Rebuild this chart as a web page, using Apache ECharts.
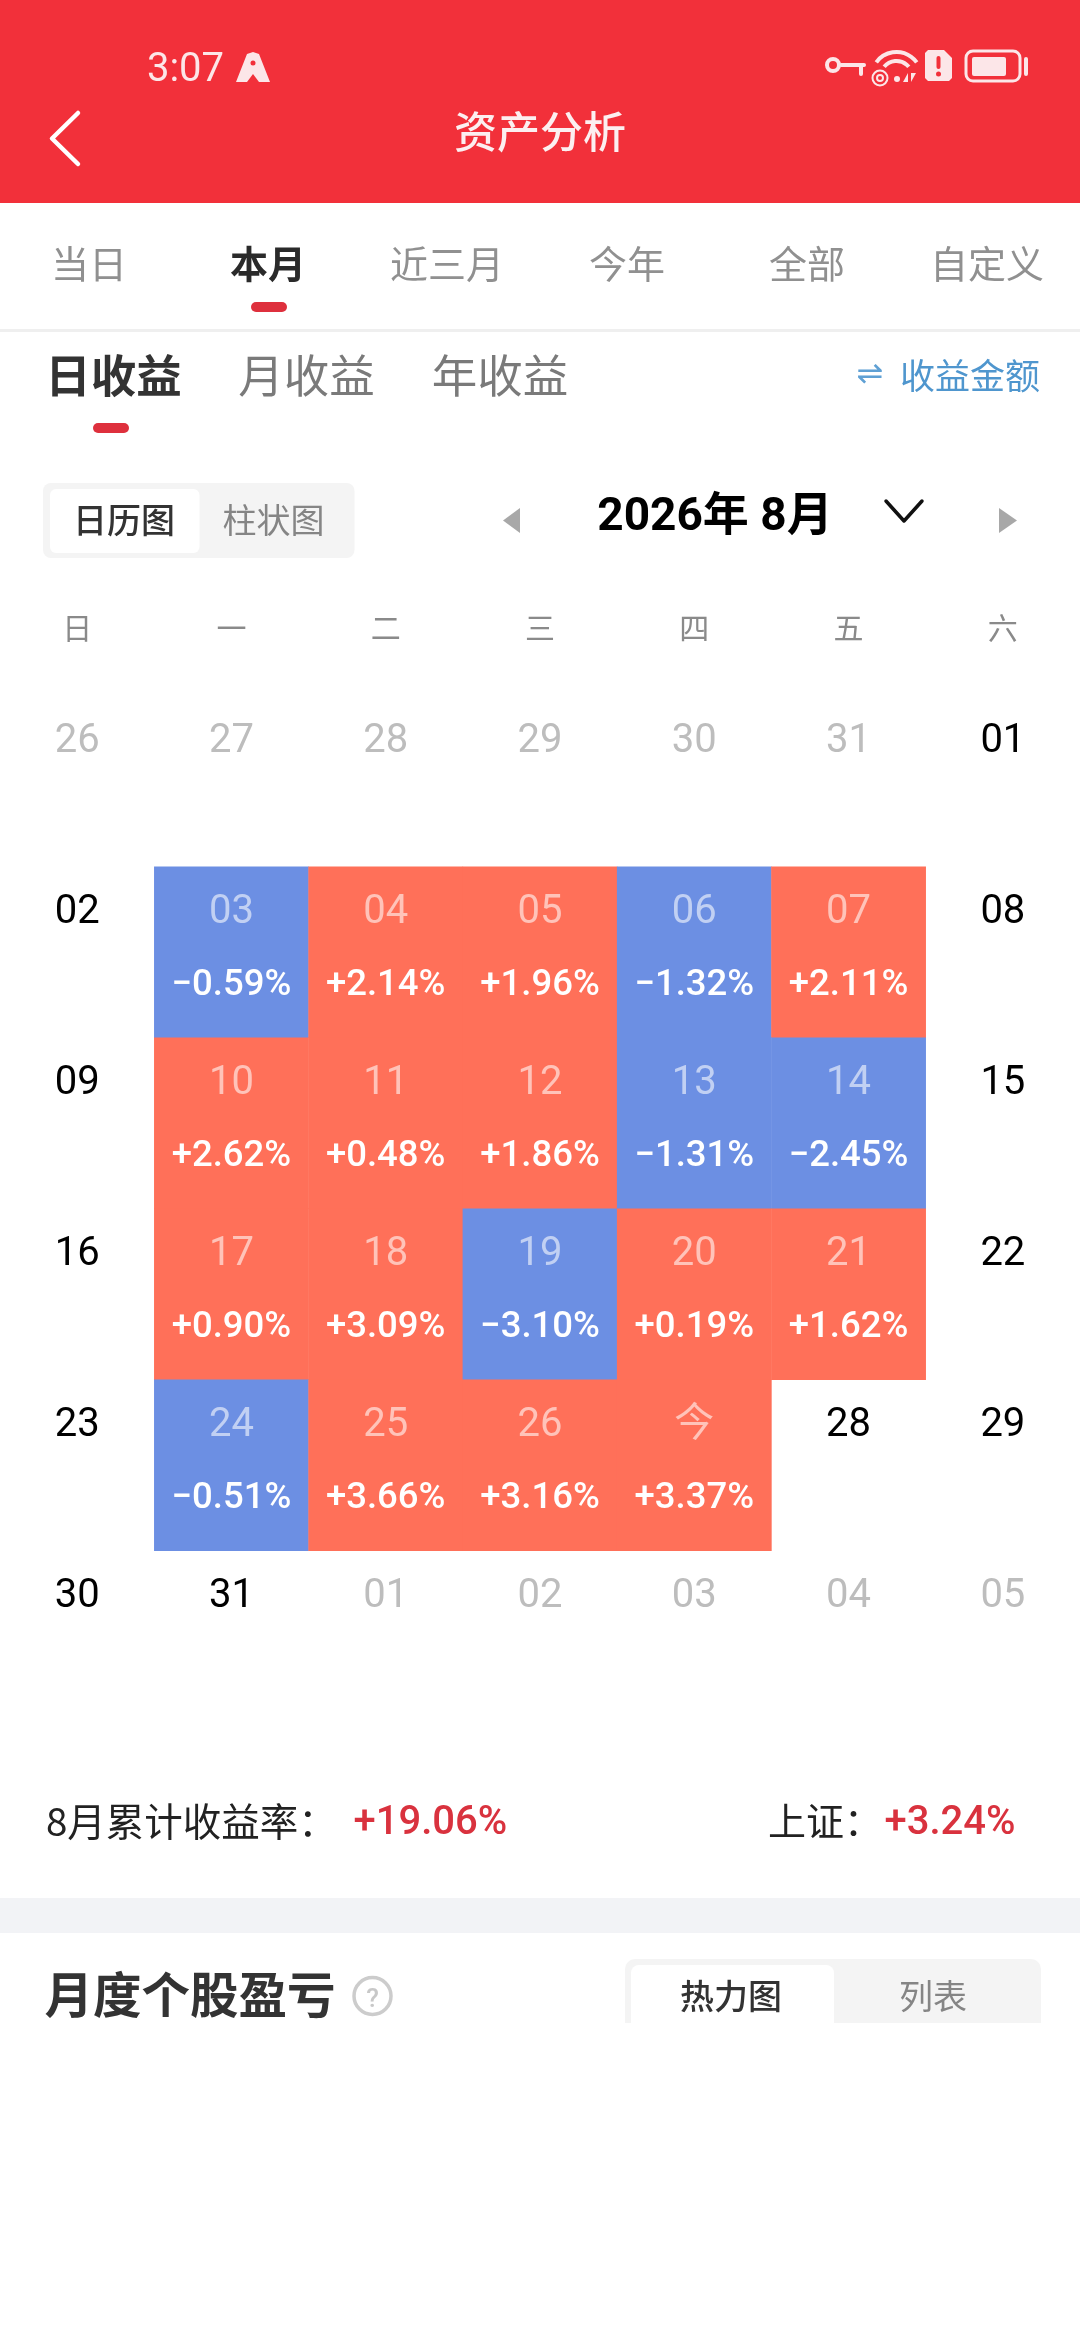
<!DOCTYPE html>
<html><head><meta charset="utf-8">
<style>html,body{margin:0;padding:0;background:#fff}#c{width:1080px;height:2340px}</style>
<script src="https://cdn.jsdelivr.net/npm/echarts@6/dist/echarts.min.js"></script>
</head><body><div id="c"></div>
<script>
const weekDays = ['日','一','二','三','四','五','六'];
const dateRows = [
  ['26','27','28','29','30','31','01'],
  ['02','03','04','05','06','07','08'],
  ['09','10','11','12','13','14','15'],
  ['16','17','18','19','20','21','22'],
  ['23','24','25','26','今','28','29'],
  ['30','31','01','02','03','04','05']
];
const dailyReturns = [
  [null,null,null,null,null,null,null],
  [null,-0.59,2.14,1.96,-1.32,2.11,null],
  [null,2.62,0.48,1.86,-1.31,-2.45,null],
  [null,0.90,3.09,-3.10,0.19,1.62,null],
  [null,-0.51,3.66,3.16,3.37,null,null],
  [null,null,null,null,null,null,null]
];
const rangeTabs = ['当日','本月','近三月','今年','全部','自定义'];
const rangeTabX = [89,268,447,627,807,987];
const profitTabs = ['日收益','月收益','年收益'];
const profitTabX = [113.5,306.5,500];

const RED='#F2303A', ACCENT='#DE303D', UP='#FF7059', DOWN='#6C8FE3', PALE='#FCE6E8';
const CJK='"Noto Sans CJK SC"';
const NUM='Roboto,"Noto Sans CJK SC"';

function fmt(v){return (v>0?'+':'\u2212')+Math.abs(v).toFixed(2)+'%';}
const cells=[]; let seen=0;
dateRows.forEach((row,r)=>row.forEach((d,c)=>{
  if(d==='01')seen++;
  const inMonth=seen===1;
  const v=dailyReturns[r][c];
  const has=v!==null;
  cells.push({
    value:[c,r,has?v:0],
    itemStyle:{color:has?(v>0?UP:DOWN):'rgba(255,255,255,0)'},
    label:{formatter:`{${has?'a':(inMonth?'b':'g')}|${d}}\n{p|${has?fmt(v):' '}}`}
  });
}));

function T(text,x,y,font,fill,align){
  return {type:'text',silent:true,style:{text,x,y,font,fill,align:align||'center',verticalAlign:'middle',textAlign:align||'center',textVerticalAlign:'middle'}};
}
function R(x,y,w,h,fill,r){
  return {type:'rect',silent:true,shape:{x,y,width:w,height:h,r:r||0},style:{fill}};
}
function L(points,stroke,lw){
  return {type:'polyline',silent:true,shape:{points},style:{stroke,lineWidth:lw,fill:null,lineCap:'round',lineJoin:'round'}};
}
function Arc(cx,cy,r,a,b,lw){
  return {type:'arc',silent:true,shape:{cx,cy,r,startAngle:a,endAngle:b},style:{fill:null,stroke:PALE,lineWidth:lw}};
}
const W='#fff', PI=Math.PI;
const g=[
  R(0,0,1080,203,RED),
  T('3:07',185.5,71,`400 40px ${NUM}`,PALE),
  // rocket "A" badge
  {type:'polygon',silent:true,shape:{points:[[253,52],[259,54],[270,82],[259,82],[253,74],[247,82],[236,82],[247,54]]},style:{fill:PALE}},
  {type:'circle',silent:true,shape:{cx:253,cy:63,r:2.5},style:{fill:RED}},
  // key
  {type:'circle',silent:true,shape:{cx:833,cy:65,r:6},style:{fill:null,stroke:PALE,lineWidth:4}},
  L([[841,65],[864,65]],PALE,4), L([[861,65],[861,74]],PALE,4),
  // wifi
  Arc(896.5,77,25,-PI*0.80,-PI*0.20,4),
  Arc(896.5,77,16,-PI*0.78,-PI*0.22,4),
  {type:'circle',silent:true,shape:{cx:897,cy:79,r:3},style:{fill:PALE}},
  {type:'circle',silent:true,shape:{cx:880,cy:78,r:7.5},style:{fill:null,stroke:PALE,lineWidth:2}},
  {type:'circle',silent:true,shape:{cx:880,cy:78,r:3},style:{fill:null,stroke:PALE,lineWidth:2}},
  {type:'polygon',silent:true,shape:{points:[[908,73],[908,82],[903,82]]},style:{fill:PALE}},
  {type:'polygon',silent:true,shape:{points:[[911,73],[911,82],[916,73]]},style:{fill:PALE}},
  // alert
  {type:'polygon',silent:true,shape:{points:[[928,50],[944,50],[952,58],[952,78],[949,81],[928,81],[925,78],[925,53]]},style:{fill:PALE}},
  R(936.5,56,4,13,RED,2),
  {type:'circle',silent:true,shape:{cx:938.5,cy:74,r:2.5},style:{fill:RED}},
  // battery
  {type:'rect',silent:true,shape:{x:966,y:51,width:54,height:30,r:7},style:{fill:null,stroke:PALE,lineWidth:3}},
  R(972,57,34,19,PALE,2),
  L([[1026,59],[1026,74]],PALE,4),
  // nav
  L([[78,113],[52,138.5],[78,164]],W,4.5),
  T('资产分析',540,132,`500 43px ${CJK}`,'#FCEFF0'),
  // range tabs
  ...rangeTabs.map((t,i)=>T(t,rangeTabX[i],264,`${i===1?700:400} 38px ${CJK}`,i===1?'#2A2A2A':'#909090')),
  R(251,302,36,10,ACCENT,5),
  R(0,329,1080,3,'#EFEFEF'),
  // profit tabs
  ...profitTabs.map((t,i)=>T(t,profitTabX[i],376,`${i===0?700:400} 45.5px ${CJK}`,i===0?'#333':'#7A7A7A')),
  R(93,423,36,10,ACCENT,5),
  T('⇌',870,376,'400 32px "DejaVu Sans"','#5FA0D4'),
  T('收益金额',970,376,`400 35px ${CJK}`,'#4F96CE'),
  // segmented
  R(43,483,311.5,75,'#F4F4F4',8),
  R(50,489,149.5,64,'#fff',6),
  T('日历图',124,520,`500 34px ${CJK}`,'#333'),
  T('柱状图',273.5,520,`400 34px ${CJK}`,'#858585'),
  {type:'polygon',silent:true,shape:{points:[[520,508],[520,533],[503,520.5]]},style:{fill:'#A8A8A8'}},
  {type:'polygon',silent:true,shape:{points:[[999,508],[999,533],[1017,520.5]]},style:{fill:'#A8A8A8'}},
  T('2026年 8月',715,518,`700 46px ${NUM}`,'#000'),
  L([[886,501],[904,521],[922,501]],'#111',3.5),
  // summary
  T('8月累计收益率：',46,1821,`400 38.5px ${CJK}`,'#222','left'),
  T('+19.06%',353.5,1824,`500 40px ${NUM}`,'#D9323E','left'),
  T('上证：',768,1821,`400 38px ${CJK}`,'#222','left'),
  T('+3.24%',884.5,1824,`500 40px ${NUM}`,'#D9323E','left'),
  R(0,1898,1080,35,'#F2F3F6'),
  T('月度个股盈亏',44.5,1995,`700 48.5px ${CJK}`,'#333','left'),
  {type:'circle',silent:true,shape:{cx:372.5,cy:1996,r:18.5},style:{fill:'#fff',stroke:'#CCCCCC',lineWidth:3.5}},
  T('?',372.5,2000,`500 26px ${NUM}`,'#C8C8C8'),
  R(625,1959,416,64,'#F4F4F4',[10,10,0,0]),
  R(631,1965,203,58,'#fff',[8,8,0,0]),
  T('热力图',731,1996,`500 34px ${CJK}`,'#333'),
  T('列表',933,1996,`400 34px ${CJK}`,'#858585')
];

const chart=echarts.init(document.getElementById('c'),null,{renderer:'canvas'});
chart.setOption({
  animation:false,
  backgroundColor:'#fff',
  grid:{left:0,right:0,top:695.7,height:1026,containLabel:false},
  xAxis:{type:'category',position:'top',data:weekDays,axisLine:{show:false},axisTick:{show:false},splitLine:{show:false},
    axisLabel:{fontSize:30,color:'#8A8A8A',fontFamily:'Noto Sans CJK SC',margin:53,interval:0}},
  yAxis:{type:'category',inverse:true,data:dateRows.map((_,i)=>i),show:false},
  series:[{
    type:'heatmap',
    data:cells,
    silent:true,
    label:{show:true,offset:[0,-2.5],rich:{
      a:{fontSize:40,lineHeight:73,fontFamily:NUM,color:'rgba(255,255,255,0.58)'},
      b:{fontSize:40,lineHeight:73,fontFamily:NUM,color:'#000'},
      g:{fontSize:40,lineHeight:73,fontFamily:NUM,color:'#BDBDBD'},
      p:{fontSize:36.5,lineHeight:73,fontFamily:NUM,fontWeight:500,color:'#fff'}
    }},
    emphasis:{disabled:true}
  }],
  graphic:{elements:g}
});
</script></body></html>
